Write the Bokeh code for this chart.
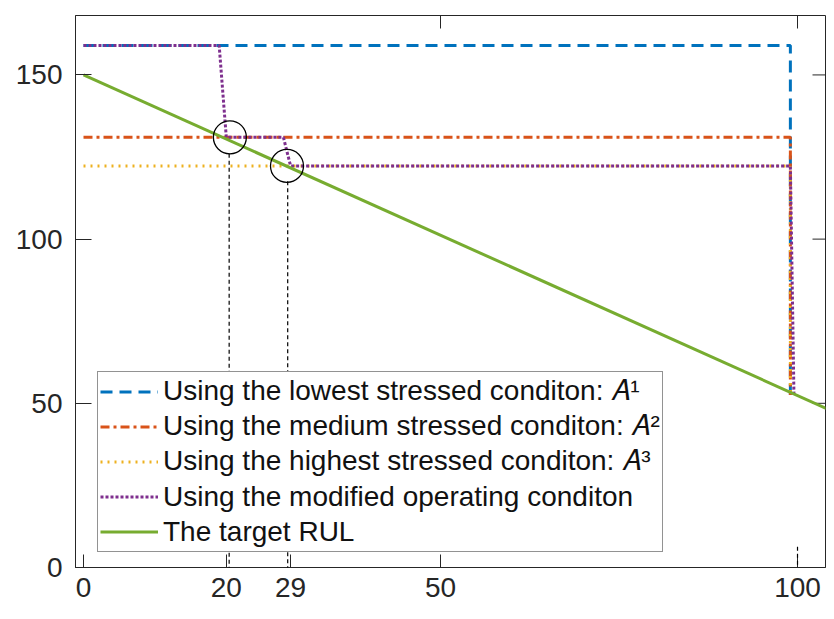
from bokeh.plotting import figure
from bokeh.models import Range1d, FixedTicker, Legend, LegendItem, Arrow, ColumnDataSource
from bokeh.embed import file_html
from bokeh.resources import INLINE

# ---- data ----
lowest_x = [0, 99, 99]
lowest_y = [159, 159, 52.5]
medium_x = [0, 99, 99]
medium_y = [131, 131, 52.5]
highest_x = [0, 99, 99]
highest_y = [122.3, 122.3, 52.5]
modified_x = [0, 19, 20, 28, 29, 99, 99.5]
modified_y = [159, 159, 131, 131, 122.3, 122.3, 52.5]
rul_x = [0, 105]
rul_y = [150, 47.5]

switch_x = [20.5, 28.5]
switch_y = [131, 122.3]

guide_x = [20.4, 28.6, 100]
guide_top = [126, 117.6, 6.3]
guide_bottom = [-3, -3, -3]

x_ticks = [0, 20, 29, 50, 100]
y_ticks = [0, 50, 100, 150]
top_ticks = [50, 100]
right_ticks = [50, 100, 150]

labels = [
    "Using the lowest stressed conditon: \U0001D434\u00B9",
    "Using the medium stressed conditon: \U0001D434\u00B2",
    "Using the highest stressed conditon: \U0001D434\u00B3",
    "Using the modified operating conditon",
    "The target RUL",
]

# ---- layout ----
FONT = "Liberation Sans"
AX = "#262626"
FRAME_W, FRAME_H = 750, 552
X0, X1 = -1.12, 103.92
Y0, Y1 = 0, 168.1
TICK_PX = 13
dx_tick = TICK_PX * (X1 - X0) / FRAME_W
dy_tick = TICK_PX * (Y1 - Y0) / FRAME_H

p = figure(frame_width=FRAME_W, frame_height=FRAME_H,
           x_range=Range1d(X0, X1), y_range=Range1d(Y0, Y1),
           output_backend="svg", toolbar_location=None,
           min_border_left=75, min_border_right=1,
           min_border_top=15, min_border_bottom=44)
p.grid.visible = False
p.outline_line_color = AX
p.outline_line_width = 1
p.background_fill_color = "white"

for ax in (p.xaxis[0], p.yaxis[0]):
    ax.major_label_text_font = FONT
    ax.major_label_text_font_size = "28px"
    ax.major_label_text_color = AX
    ax.axis_line_color = AX
    ax.major_tick_line_color = AX
    ax.major_tick_out = 0
    ax.minor_tick_line_color = None

p.xaxis.ticker = FixedTicker(ticks=x_ticks)
p.xaxis.major_tick_in = TICK_PX
p.xaxis.major_label_standoff = 10
p.yaxis.ticker = FixedTicker(ticks=y_ticks)
p.yaxis.major_tick_in = 16
p.yaxis.major_label_standoff = 13

# inward ticks on the right and top edges of the box
p.segment(x0=[X1] * len(right_ticks), y0=right_ticks,
          x1=[X1 - dx_tick] * len(right_ticks), y1=right_ticks,
          line_color=AX, line_width=1)
p.segment(x0=top_ticks, y0=[Y1] * len(top_ticks),
          x1=top_ticks, y1=[Y1 - dy_tick] * len(top_ticks),
          line_color=AX, line_width=1)

r1 = p.line(lowest_x, lowest_y, line_color="#0072BD", line_width=3, line_dash="12 7")
r2 = p.line(medium_x, medium_y, line_color="#D95319", line_width=3, line_dash="9 4 3 4")
r3 = p.line(highest_x, highest_y, line_color="#EDB120", line_width=3, line_dash="2 5")
r4 = p.line(modified_x, modified_y, line_color="#7E2F8E", line_width=3, line_dash="3 2")
r5 = p.line(rul_x, rul_y, line_color="#77AC30", line_width=3)

p.scatter(switch_x, switch_y, marker="circle", size=33, fill_color=None,
          line_color="black", line_width=1.3)

gsrc = ColumnDataSource(dict(x0=guide_x, y0=guide_top, x1=guide_x, y1=guide_bottom))
p.add_layout(Arrow(end=None, source=gsrc, x_start="x0", y_start="y0",
                   x_end="x1", y_end="y1", line_color="black",
                   line_width=1.2, line_dash="4 3"))

legend = Legend(items=[LegendItem(label=l, renderers=[r])
                       for l, r in zip(labels, [r1, r2, r3, r4, r5])],
                location=(22, 15), margin=0, padding=2, spacing=0,
                glyph_width=58, glyph_height=35, label_height=35,
                label_standoff=5,
                label_text_font=FONT, label_text_font_size="28px",
                label_text_color="#111111",
                border_line_color=AX, border_line_width=1,
                background_fill_color="white", background_fill_alpha=1)
p.add_layout(legend)

open("out.html", "w").write(file_html(p, INLINE))
